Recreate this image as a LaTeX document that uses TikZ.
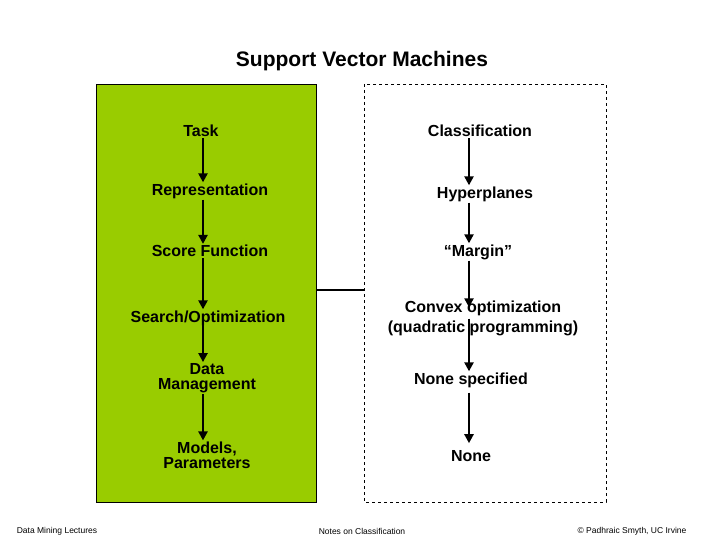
\documentclass[tikz,border=0pt]{standalone}
\usepackage{fontspec}
\setmainfont{Liberation Sans}
\usetikzlibrary{arrows.meta}
\definecolor{lime}{rgb}{0.6,0.8,0.0}

\tikzset{
	stage/.style={font=\fontsize{16}{18}\selectfont\bfseries, align=center, inner sep=1pt},
	flow/.style={line width=2.6pt, -{Triangle[width=9pt,length=9pt]}},
	foot/.style={font=\fontsize{8.5}{10}\selectfont}
}

\begin{document}
\begin{tikzpicture}[x=1pt,y=-1pt]
	\useasboundingbox (0,0) rectangle (720,540);

	\node[font=\fontsize{21}{24}\selectfont\bfseries] at (362,61) (title) {Support Vector Machines};

	\draw[fill=lime] (96,84) rectangle (316,502);
	\draw[dashed] (364,84) rectangle (606,502);
	\coordinate (gr) at (316,290);
	\coordinate (dl) at (364,290);
	\draw[line width=2pt] (gr) -- (dl);

	\coordinate (lx) at (203,0);
	\coordinate (rx) at (469,0);

	\node[stage] at (201,131) (1) {Task};
	\node[stage] at (210,191) (2) {Representation};
	\node[stage] at (210,251) (3) {Score Function};
	\node[stage] at (208,318) (4) {Search/Optimization};
	\node[stage] at (207,378) (5) {Data\\[-3pt]Management};
	\node[stage] at (207,455) (6) {Models,\\[-3pt]Parameters};

	\node[stage] at (480,131) (7) {Classification};
	\node[stage] at (485,194) (8) {Hyperplanes};
	\node[stage] at (478,252) (9) {``Margin''};
	\node[stage] at (483,318) (10) {Convex optimization\\[2pt](quadratic programming)};
	\node[stage] at (471,380) (11) {None specified};
	\node[stage] at (471,456) (12) {None};

	\draw[flow] (1.south -| lx) to (2.north -| lx);
	\draw[flow] (2.south -| lx) to (3.north -| lx);
	\draw[flow] (3.south -| lx) to (4.north -| lx);
	\draw[flow,shorten <=-10pt] (4.south -| lx) to (5.north -| lx);
	\draw[flow] (5.south -| lx) to (6.north -| lx);

	\draw[flow] (7.south -| rx) to (8.north -| rx);
	\draw[flow] (8.south -| rx) to (9.north -| rx);
	\draw[flow,shorten >=-8pt] (9.south -| rx) to (10.north -| rx);
	\draw[flow,shorten <=-18pt] (10.south -| rx) to (11.north -| rx);
	\draw[flow,shorten <=4pt,shorten >=6pt] (11.south -| rx) to (12.north -| rx);

	\node[foot] at (57,531) (f1) {Data Mining Lectures};
	\node[foot] at (362,531) (f2) {Notes on Classification};
	\node[foot] at (632,531) (f3) {\textcopyright{} Padhraic Smyth, UC Irvine};
\end{tikzpicture}
\end{document}
